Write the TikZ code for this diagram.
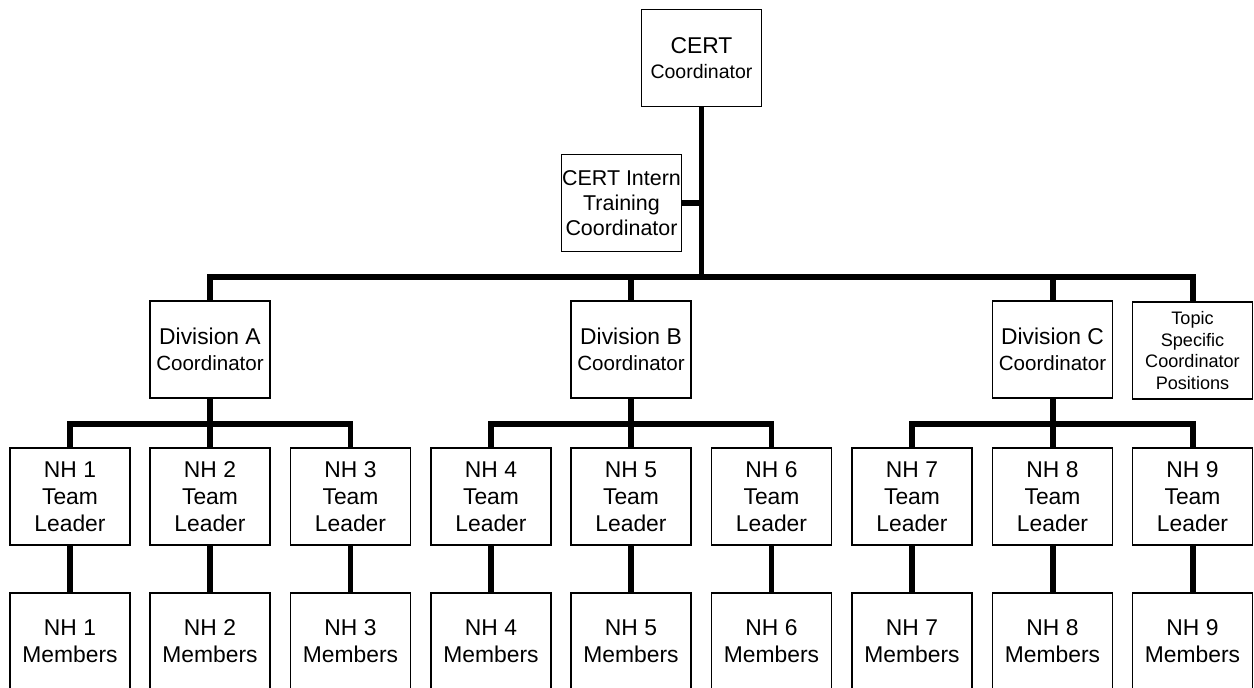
\documentclass[tikz,border=0pt]{standalone}
\usepackage{fontspec}
\setmainfont{Liberation Sans}
\begin{document}
\begin{tikzpicture}[
  x=0.02cm, y=-0.02cm,
  box/.style={rectangle, draw=black, line width=1.1pt, minimum width=2.4cm,
    minimum height=1.94cm, align=center, inner sep=0pt,
    font=\fontsize{13}{15.5}\selectfont},
  divbox/.style={box, font=\fontsize{13}{14.6}\selectfont},
  topicbox/.style={box, font=\fontsize{10.3}{12.3}\selectfont},
  connector/.style={line width=3.4pt},
]
\useasboundingbox (0,0) rectangle (1254,687);
\clip (0,0) rectangle (1254,687);

\node[box, font=\fontsize{13}{14.2}\selectfont] (cert) at (701.5, 58)
  {CERT\\{\fontsize{11.1}{14.2}\selectfont Coordinator}};
\node[box, font=\fontsize{12.2}{14.2}\selectfont] (intern) at (621.5, 203)
  {CERT Intern\\Training\\Coordinator};

\coordinate (mainbar) at (701.5, 277);

\node[divbox] (divA) at (210, 349.5)
  {Division A\\{\fontsize{11.7}{14.6}\selectfont Coordinator}};
\node[divbox] (divB) at (631, 349.5)
  {Division B\\{\fontsize{11.7}{14.6}\selectfont Coordinator}};
\node[divbox] (divC) at (1052.5, 349.5)
  {Division C\\{\fontsize{11.7}{14.6}\selectfont Coordinator}};
\node[topicbox] (topic) at (1192.5, 350.5)
  {Topic\\Specific\\Coordinator\\Positions};

\draw[connector] (cert) -- (mainbar);
\draw[connector] (intern.east) -- (intern.east -| mainbar);
\draw[connector] (divA.north) |- (mainbar) -| (topic.north);
\draw[connector] (divB.north) -- (divB.north |- mainbar);
\draw[connector] (divC.north) -- (divC.north |- mainbar);

% team leaders
\node[box] (lead1) at (70, 496.5) {NH 1\\Team\\Leader};
\node[box] (lead2) at (210, 496.5) {NH 2\\Team\\Leader};
\node[box] (lead3) at (350.5, 496.5) {NH 3\\Team\\Leader};
\node[box] (lead4) at (491, 496.5) {NH 4\\Team\\Leader};
\node[box] (lead5) at (631, 496.5) {NH 5\\Team\\Leader};
\node[box] (lead6) at (771.5, 496.5) {NH 6\\Team\\Leader};
\node[box] (lead7) at (912, 496.5) {NH 7\\Team\\Leader};
\node[box] (lead8) at (1052.5, 496.5) {NH 8\\Team\\Leader};
\node[box] (lead9) at (1192.5, 496.5) {NH 9\\Team\\Leader};

\coordinate (barA) at (210, 424);
\coordinate (barB) at (631, 424);
\coordinate (barC) at (1052.5, 424);

\draw[connector] (divA) -- (barA);
\draw[connector] (lead1.north) |- (barA) -| (lead3.north);
\draw[connector] (lead2) -- (barA);
\draw[connector] (divB) -- (barB);
\draw[connector] (lead4.north) |- (barB) -| (lead6.north);
\draw[connector] (lead5) -- (barB);
\draw[connector] (divC) -- (barC);
\draw[connector] (lead7.north) |- (barC) -| (lead9.north);
\draw[connector] (lead8) -- (barC);

% members
\node[box] (mem1) at (70, 641.5) {NH 1\\Members};
\node[box] (mem2) at (210, 641.5) {NH 2\\Members};
\node[box] (mem3) at (350.5, 641.5) {NH 3\\Members};
\node[box] (mem4) at (491, 641.5) {NH 4\\Members};
\node[box] (mem5) at (631, 641.5) {NH 5\\Members};
\node[box] (mem6) at (771.5, 641.5) {NH 6\\Members};
\node[box] (mem7) at (912, 641.5) {NH 7\\Members};
\node[box] (mem8) at (1052.5, 641.5) {NH 8\\Members};
\node[box] (mem9) at (1192.5, 641.5) {NH 9\\Members};

\draw[connector] (lead1) -- (mem1);
\draw[connector] (lead2) -- (mem2);
\draw[connector] (lead3) -- (mem3);
\draw[connector] (lead4) -- (mem4);
\draw[connector] (lead5) -- (mem5);
\draw[connector] (lead6) -- (mem6);
\draw[connector] (lead7) -- (mem7);
\draw[connector] (lead8) -- (mem8);
\draw[connector] (lead9) -- (mem9);

\end{tikzpicture}
\end{document}
